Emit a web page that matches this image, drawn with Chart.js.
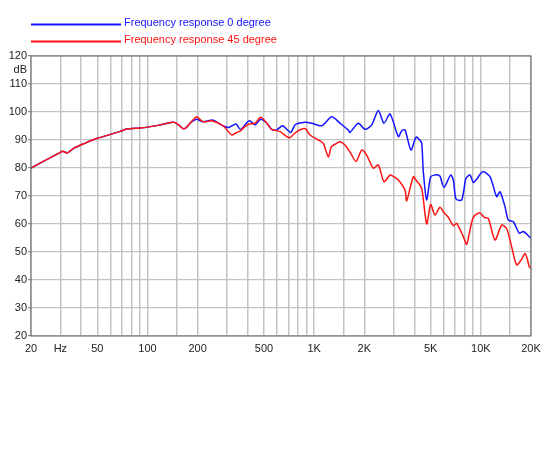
<!DOCTYPE html>
<html>
<head>
<meta charset="utf-8">
<script src="https://cdn.jsdelivr.net/npm/chart.js@4"></script>
<style>
  html, body { margin: 0; padding: 0; background: #fff; }
  #wrap { width: 550px; height: 450px; position: relative; }
</style>
</head>
<body>
<div id="wrap"><canvas id="fr"></canvas></div>
<script>
// ── DATA ──

const labelA = 'Frequency response 0 degree';
const labelB = 'Frequency response 45 degree';

// 0 degree (blue)
const freqA = [20, 25, 30, 31, 33, 36, 42, 50, 60, 68, 75, 90, 100, 120, 135, 145, 155, 164, 172, 180, 190, 197,
  216, 247, 285, 308, 340, 361, 408, 442, 478, 520, 556, 596, 647, 723, 768, 880, 966, 1110, 1274, 1429, 1600,
  1640, 1840, 2020, 2214, 2427, 2624, 2852, 3200, 3350, 3508, 3810, 4083, 4300, 4420, 4518, 4730, 5000, 5310,
  5560, 5700, 6012, 6592, 6840, 7096, 7674, 8148, 8610, 9016, 9440, 10260, 11350, 12440, 13030, 13960, 14620,
  15670, 17020, 18000, 20000];
const dbA = [80.0, 83.1, 85.6, 86.0, 85.4, 87.0, 88.8, 90.6, 92.0, 93.0, 93.9, 94.3, 94.6, 95.4, 96.2, 96.3, 95.2, 94.0, 94.6, 96.0, 97.0, 97.4,
  96.5, 97.1, 95.0, 94.5, 95.7, 93.8, 96.9, 95.4, 97.4, 96.0, 93.8, 93.6, 95.1, 92.7, 95.4, 96.3, 96.0, 95.1, 98.3, 96.0, 93.6,
  92.7, 96.0, 93.8, 95.4, 100.5, 96.0, 99.3, 91.2, 93.3, 93.6, 86.4, 91.0, 90.0, 88.8, 78.7, 68.6, 76.9, 77.5,
  77.5, 77.0, 73.1, 77.5, 75.7, 68.9, 68.6, 76.3, 77.5, 74.8, 76.0, 78.7, 76.9, 69.8, 71.5, 66.2, 61.4,
  60.8, 56.7, 57.3, 54.9];

// 45 degree (red)
const freqB = [20, 25, 30, 31, 33, 36, 42, 50, 60, 68, 75, 90, 100, 120, 135, 145, 155, 164, 172, 180, 190, 197,
  216, 243, 285, 320, 340, 361, 380, 408, 442, 478, 520, 556, 624, 710, 786, 880, 944, 1060, 1135, 1216, 1270,
  1365, 1430, 1530, 1650, 1782, 1928, 2066, 2265, 2427, 2624, 2852, 3000, 3200, 3508, 3590, 3936, 4083, 4416,
  4730, 5000, 5310, 5690, 6012, 6380, 6840, 7170, 7850, 8220, 8610, 9016, 9800, 10500, 11090, 12160, 13340,
  14290, 15300, 16400, 17400, 18400, 19000, 19500, 20000];
const dbB = [80.0, 83.1, 85.6, 86.0, 85.4, 87.0, 88.8, 90.6, 92.0, 93.0, 93.9, 94.3, 94.6, 95.4, 96.2, 96.3, 95.2, 94.0, 94.6, 96.0, 97.5, 98.3,
  96.5, 96.9, 95.0, 91.8, 92.6, 93.3, 94.5, 95.7, 96.0, 98.1, 96.0, 93.8, 93.0, 90.8, 93.0, 94.1, 91.8, 90.0, 88.8, 84.0, 87.6,
  88.8, 89.4, 88.2, 85.5, 82.3, 86.4, 84.6, 79.9, 81.1, 75.1, 77.5, 76.9, 75.7, 72.1, 68.3, 76.9, 75.7, 72.7,
  60.0, 67.0, 63.2, 66.0, 64.0, 62.4, 59.4, 60.2, 55.5, 52.7, 57.9, 62.4, 64.0, 62.4, 62.0, 54.3, 59.6,
  58.4, 51.9, 45.4, 47.0, 49.5, 47.5, 44.8, 44.2];

// grid / tick positions
const xGrid = [20, 30, 40, 50, 60, 70, 80, 90, 100, 150, 200, 300, 400, 500, 600, 700, 800, 900,
  1000, 1500, 2000, 3000, 4000, 5000, 6000, 7000, 8000, 9000, 10000, 15000, 20000];
const xTickLabels = { 20: '20', 30: 'Hz', 50: '50', 100: '100', 200: '200', 500: '500',
  1000: '1K', 2000: '2K', 5000: '5K', 10000: '10K', 20000: '20K' };
const yTicks = [20, 30, 40, 50, 60, 70, 80, 90, 100, 110, 115, 120];
const yUnitAt = 115;

// ── CHART ──

const FONT = 'Liberation Sans, Arial, Helvetica, sans-serif';
const BLUE = 'rgb(20,20,255)';
const RED = 'rgb(255,20,20)';
const GRID = '#c4c4c4';

function pairs(xs, ys) {
  return xs.map((x, i) => ({ x, y: ys[i] }));
}

const frameAndLegend = {
  id: 'frameAndLegend',
  afterDraw(chart) {
    const { ctx, chartArea: a } = chart;
    ctx.save();
    ctx.strokeStyle = '#666';
    ctx.lineWidth = 1;
    ctx.strokeRect(a.left, a.top, a.right - a.left, a.bottom - a.top);

    // legend: line + coloured label, one per row
    const rows = [[BLUE, labelA, 24.5], [RED, labelB, 41.5]];
    ctx.font = '11px ' + FONT;
    ctx.textBaseline = 'middle';
    rows.forEach(([col, txt, y]) => {
      ctx.strokeStyle = col;
      ctx.lineWidth = 2;
      ctx.beginPath();
      ctx.moveTo(31, y);
      ctx.lineTo(121, y);
      ctx.stroke();
      ctx.fillStyle = col;
      ctx.fillText(txt, 124, y - 2);
    });
    ctx.restore();
  }
};

new Chart(document.getElementById('fr'), {
  type: 'line',
  data: {
    datasets: [
      { label: labelA, data: pairs(freqA, dbA), borderColor: BLUE, borderWidth: 1.5, order: 1 },
      { label: labelB, data: pairs(freqB, dbB), borderColor: RED, borderWidth: 1.5, order: 0 },
    ]
  },
  options: {
    responsive: true,
    maintainAspectRatio: false,
    animation: false,
    layout: { padding: { top: 56, right: 19, left: 0, bottom: 0 } },
    elements: { point: { radius: 0 }, line: { tension: 0.25, fill: false } },
    plugins: { legend: { display: false }, tooltip: { enabled: false } },
    scales: {
      x: {
        type: 'logarithmic',
        min: 20,
        max: 20000,
        afterBuildTicks: s => { s.ticks = xGrid.map(v => ({ value: v })); },
        afterFit: s => { s.height = 114; },
        border: { display: false },
        grid: { color: GRID, lineWidth: 1.5, drawTicks: false },
        ticks: {
          autoSkip: false,
          maxRotation: 0,
          padding: 6,
          color: '#222',
          font: { family: FONT, size: 11 },
          callback: v => xTickLabels[v] || ''
        }
      },
      y: {
        min: 20,
        max: 120,
        afterBuildTicks: s => { s.ticks = yTicks.map(v => ({ value: v })); },
        afterFit: s => { s.width = 31; },
        border: { display: false },
        grid: {
          color: c => (c.tick && c.tick.value === yUnitAt) ? 'rgba(0,0,0,0)' : GRID,
          lineWidth: 1.2,
          tickLength: 3,
          tickColor: c => (c.tick && c.tick.value === yUnitAt) ? 'rgba(0,0,0,0)' : '#888'
        },
        ticks: {
          padding: 1,
          color: '#222',
          font: { family: FONT, size: 11 },
          callback: v => v === yUnitAt ? 'dB' : String(v)
        }
      }
    }
  },
  plugins: [frameAndLegend]
});
</script>
</body>
</html>
